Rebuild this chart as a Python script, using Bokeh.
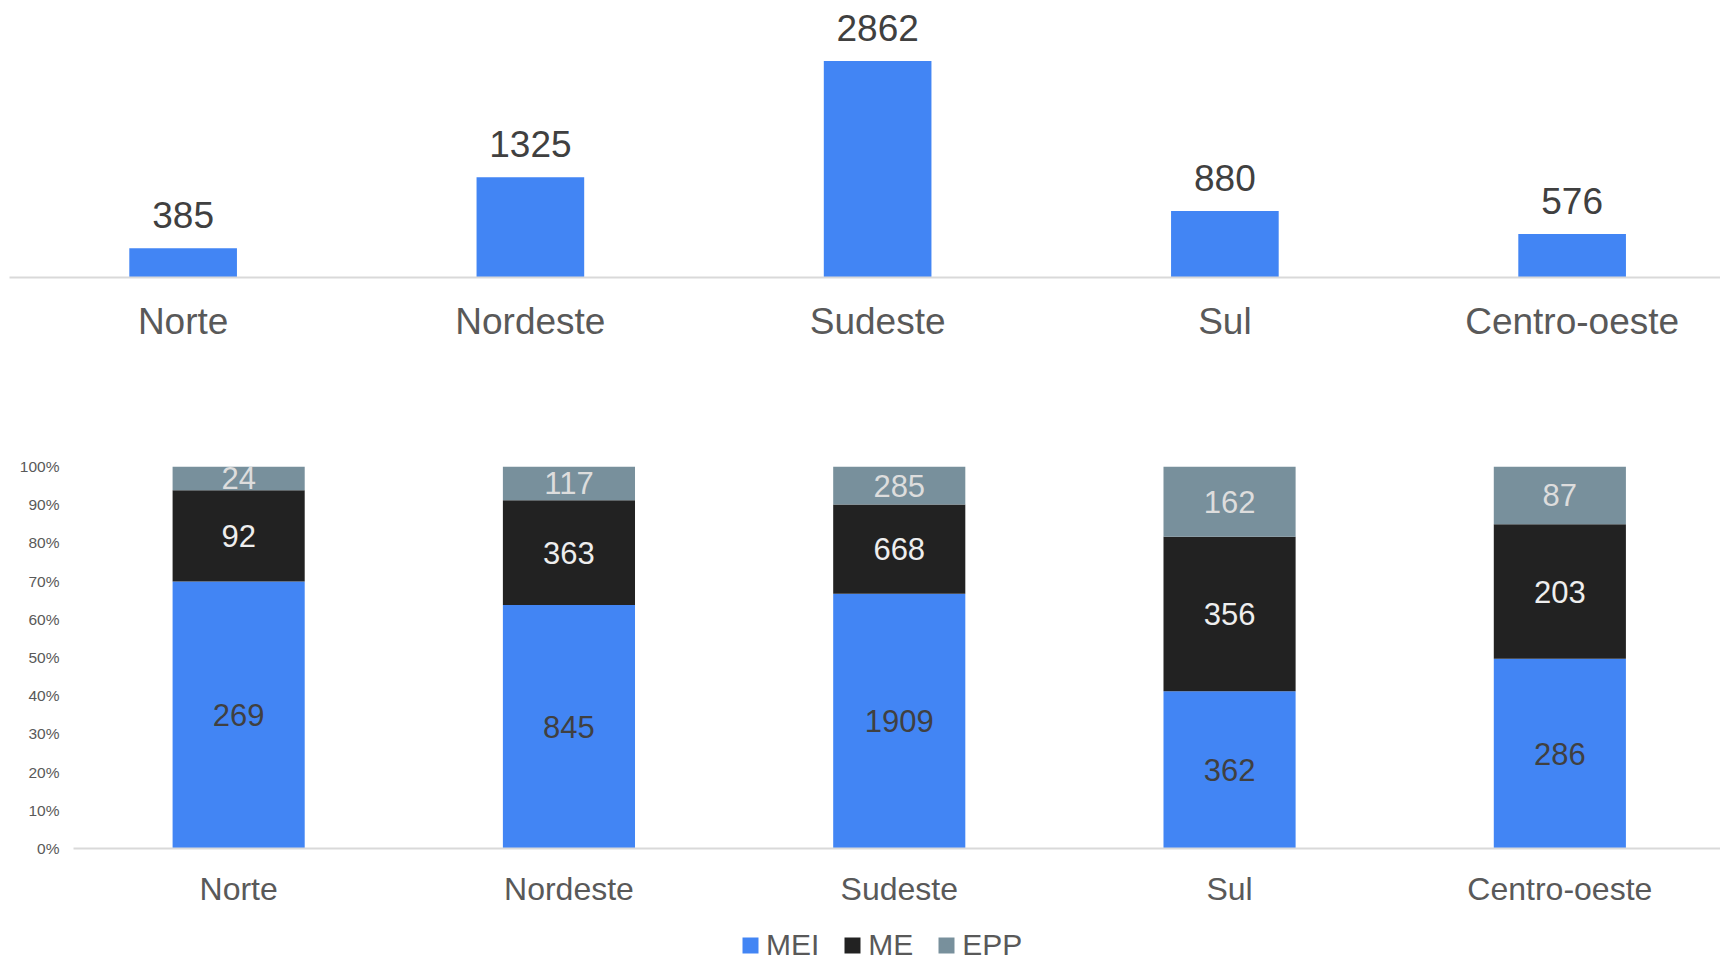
from bokeh.plotting import figure
from bokeh.models import Range1d, FixedTicker, Legend, LegendItem, ColumnDataSource
from bokeh.embed import file_html
from bokeh.resources import INLINE
from bokeh.core.properties import value

# ---------------- data ----------------
regions = ["Norte", "Nordeste", "Sudeste", "Sul", "Centro-oeste"]
totals = [385, 1325, 2862, 880, 576]
mei = [269, 845, 1909, 362, 286]
me = [92, 363, 668, 356, 203]
epp = [24, 117, 285, 162, 87]
series = ["MEI", "ME", "EPP"]
pct_ticks = [0.0, 0.1, 0.2, 0.3, 0.4, 0.5, 0.6, 0.7, 0.8, 0.9, 1.0]
pct_labels = ["0%", "10%", "20%", "30%", "40%", "50%", "60%", "70%", "80%", "90%", "100%"]

# ---------------- style ----------------
FONT = "Liberation Sans"
BLUE = "#4285f4"
BLACK = "#222222"
GREY = "#78909c"
COLORS = [BLUE, BLACK, GREY]
AXIS_GREY = "#d9d9d9"
LABEL = "#595959"
VALUE = "#404040"

xs = list(range(len(regions)))

# ---------------- top chart ----------------
top_src = ColumnDataSource(dict(x=xs, total=totals, label=[str(v) for v in totals]))
p1 = figure(width=1720, height=380,
            x_range=Range1d(-0.5, -0.5 + 1711 / 347.25),
            y_range=Range1d(0, 3660),
            y_axis_location=None,
            output_backend="svg", toolbar_location=None,
            min_border_left=9, min_border_right=0, min_border_top=0, min_border_bottom=103)
p1.vbar(x="x", top="total", bottom=0, width=0.31, source=top_src,
        fill_color=BLUE, line_color=None)
p1.text(x="x", y="total", text="label", source=top_src,
        text_font=value(FONT), text_font_size="37px", text_color=VALUE,
        text_align="center", text_baseline="middle", y_offset=-33)
p1.xaxis.ticker = FixedTicker(ticks=xs)
p1.xaxis.major_label_overrides = {x: r for x, r in zip(xs, regions)}
p1.xaxis.axis_line_color = AXIS_GREY
p1.xaxis.axis_line_width = 2
p1.xaxis.major_tick_line_color = None
p1.xaxis.minor_tick_line_color = None
p1.xaxis.major_tick_out = 0
p1.xaxis.major_tick_in = 0
p1.xaxis.major_label_standoff = 23
p1.xaxis.major_label_text_font = FONT
p1.xaxis.major_label_text_font_size = "37px"
p1.xaxis.major_label_text_color = LABEL
p1.grid.visible = False
p1.outline_line_color = None

# ---------------- bottom chart (100% stacked) ----------------
sums = [a + b + c for a, b, c in zip(mei, me, epp)]
mei_f = [a / s for a, s in zip(mei, sums)]
me_f = [b / s for b, s in zip(me, sums)]
epp_f = [c / s for c, s in zip(epp, sums)]
src2 = ColumnDataSource(dict(
    x=xs, MEI=mei_f, ME=me_f, EPP=epp_f,
    mei_mid=[a / 2 for a in mei_f],
    me_mid=[a + b / 2 for a, b in zip(mei_f, me_f)],
    epp_mid=[a + b + c / 2 for a, b, c in zip(mei_f, me_f, epp_f)],
    mei_lab=[str(v) for v in mei],
    me_lab=[str(v) for v in me],
    epp_lab=[str(v) for v in epp],
))

p2 = figure(width=1720, height=535,
            x_range=Range1d(-0.5, -0.5 + 1647 / 330.3),
            y_range=Range1d(0, 1),
            output_backend="svg", toolbar_location=None,
            min_border_left=73, min_border_right=0, min_border_top=86, min_border_bottom=67)
p2.vbar_stack(series, x="x", width=0.4, source=src2,
              fill_color=COLORS, line_color=None)
for ycol, tcol, col in [("mei_mid", "mei_lab", VALUE),
                        ("me_mid", "me_lab", "#eeeeee"),
                        ("epp_mid", "epp_lab", "#dddddd")]:
    p2.text(x="x", y=ycol, text=tcol, source=src2,
            text_font=value(FONT), text_font_size="31px", text_color=col,
            text_align="center", text_baseline="middle")

p2.xaxis.ticker = FixedTicker(ticks=xs)
p2.xaxis.major_label_overrides = {x: r for x, r in zip(xs, regions)}
p2.xaxis.axis_line_color = AXIS_GREY
p2.xaxis.axis_line_width = 2
p2.xaxis.major_tick_line_color = None
p2.xaxis.minor_tick_line_color = None
p2.xaxis.major_tick_out = 0
p2.xaxis.major_tick_in = 0
p2.xaxis.major_label_standoff = 22
p2.xaxis.major_label_text_font = FONT
p2.xaxis.major_label_text_font_size = "32px"
p2.xaxis.major_label_text_color = LABEL

p2.yaxis.ticker = FixedTicker(ticks=pct_ticks)
p2.yaxis.major_label_overrides = {t: l for t, l in zip(pct_ticks, pct_labels)}
p2.yaxis.axis_line_color = None
p2.yaxis.major_tick_line_color = None
p2.yaxis.minor_tick_line_color = None
p2.yaxis.major_tick_out = 0
p2.yaxis.major_tick_in = 0
p2.yaxis.major_label_standoff = 14
p2.yaxis.major_label_text_font = FONT
p2.yaxis.major_label_text_font_size = "15.5px"
p2.yaxis.major_label_text_color = LABEL
p2.grid.visible = False
p2.outline_line_color = None

# ---------------- legend strip (series keys for the stacked chart) ----------------
p3 = figure(width=1720, height=45, x_range=Range1d(-0.5, 4.5), y_range=Range1d(2, 3),
            x_axis_location=None, y_axis_location=None,
            output_backend="svg", toolbar_location=None,
            min_border_left=0, min_border_right=0, min_border_top=0, min_border_bottom=0)
p3.grid.visible = False
p3.outline_line_color = None
swatches = p3.vbar_stack(series, x="x", width=0.4, source=src2,
                         fill_color=COLORS, line_color=None)
legend = Legend(items=[LegendItem(label=s, renderers=[r]) for s, r in zip(series, swatches)],
                orientation="horizontal", location=(740, -2),
                glyph_width=20, glyph_height=20, label_standoff=6, spacing=23,
                padding=0, margin=0, border_line_color=None, background_fill_alpha=0,
                label_text_font=FONT, label_text_font_size="30px", label_text_color=LABEL)
p3.add_layout(legend)

open("out.html", "w").write(file_html([p1, p2, p3], INLINE))
